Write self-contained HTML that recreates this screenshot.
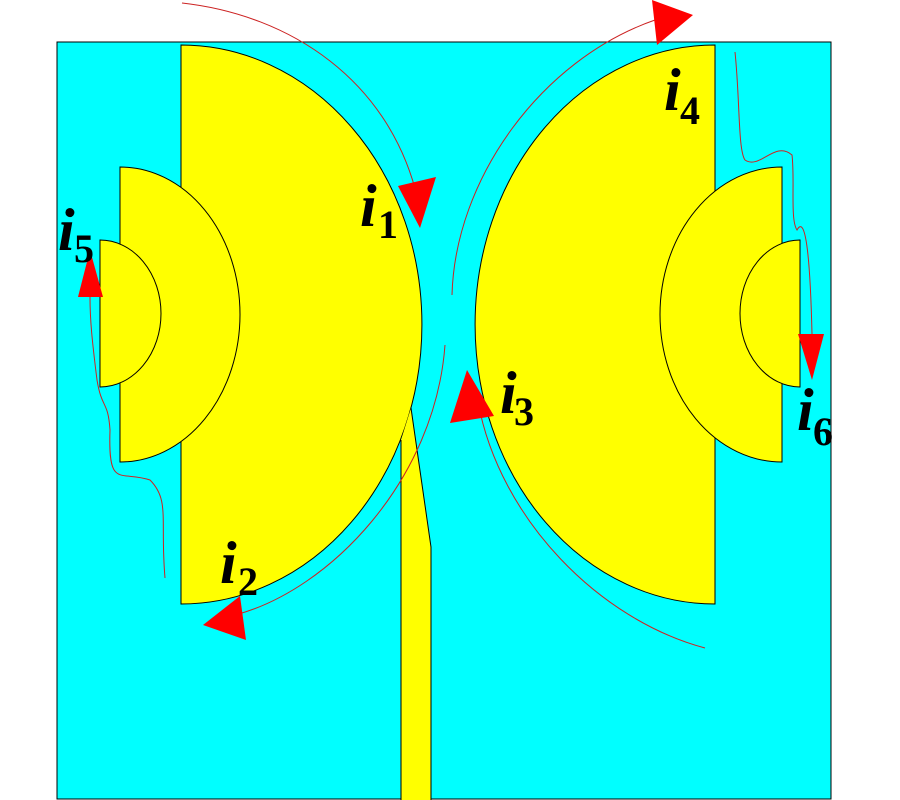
<!DOCTYPE html>
<html><head><meta charset="utf-8"><style>html,body{margin:0;padding:0;background:#fff}svg{display:block}
.i{font-family:"Liberation Serif",serif;font-style:italic;font-weight:bold;font-size:60px;fill:#000}
.s{font-family:"Liberation Serif",serif;font-weight:bold;font-size:40px;fill:#000}</style></head>
<body>
<svg width="900" height="800" viewBox="0 0 900 800" xmlns="http://www.w3.org/2000/svg">
<rect x="57" y="42" width="774" height="757" fill="#00ffff" stroke="#000" stroke-width="1"/>
<g fill="#ffff00" stroke="#000" stroke-width="1">
<path d="M181,45 A241,279.5 0 0 1 181,604 Z"/>
<path d="M120,167 A120,147.5 0 0 1 120,462 Z"/>
<path d="M100,240 A61,73.5 0 0 1 100,387 Z"/>
<path d="M715,45 A240,279.5 0 0 0 715,604 Z"/>
<path d="M782,167 A122,147.5 0 0 0 782,462 Z"/>
<path d="M800,240 A60,73.5 0 0 0 800,387 Z"/>
</g>
<polygon points="401,440 411,408 431,547 431,800 401,800" fill="#ffff00"/>
<path d="M411,408 L431,547 L431,800 M401,440 L401,800" fill="none" stroke="#000" stroke-width="1"/>
<g fill="none" stroke="#cc2222" stroke-width="1">
<path d="M182,3 C290,15 390,80 418,200"/>
<path d="M452,295 C455,180 540,60 655,20"/>
<path d="M445,345 C435,480 330,590 235,615"/>
<path d="M705,648 C600,620 500,520 478,402"/>
<path d="M165,578 C160,520 170,500 150,480 C120,470 108,490 110,430 C108,400 102,410 97,380 C92,340 90,320 90,297"/>
<path d="M735,52 C740,100 738,150 745,160 C760,170 775,140 792,155 C795,180 790,220 797,230 C805,215 810,250 812,334"/>
</g>
<g fill="#ff0000">
<polygon points="398,186 436,177 420,228"/>
<polygon points="652,0 693,15 657,45"/>
<polygon points="203,625 240,596 246,640"/>
<polygon points="467,370 450,423 494,416"/>
<polygon points="90,250 78,297 103,297"/>
<polygon points="798,334 824,334 812,380"/>
</g>
<text class="i" x="360" y="226">i</text><text class="s" x="378" y="238">1</text>
<text class="i" x="220" y="583">i</text><text class="s" x="238" y="595">2</text>
<text class="i" x="500" y="413">i</text><text class="s" x="514" y="425">3</text>
<text class="i" x="664" y="110">i</text><text class="s" x="680" y="124">4</text>
<text class="i" x="58" y="250">i</text><text class="s" x="74" y="262">5</text>
<text class="i" x="797" y="430">i</text><text class="s" x="813" y="445">6</text>
</svg>
</body></html>
